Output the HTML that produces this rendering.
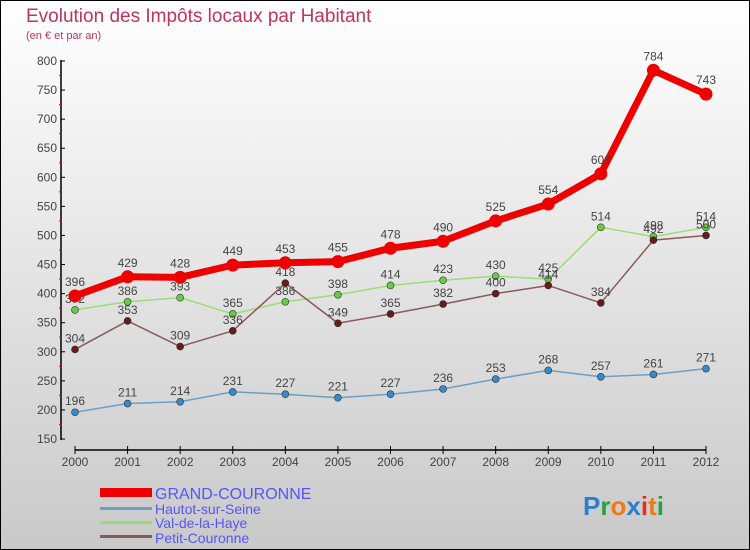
<!DOCTYPE html>
<html><head><meta charset="utf-8">
<style>
body{margin:0;width:750px;height:550px;overflow:hidden;font-family:"Liberation Sans",sans-serif;}
#wrap{position:absolute;left:0;top:0;width:748px;height:548px;border:1px solid #000;background:linear-gradient(#ffffff,#c9c9c9);}
svg{position:absolute;left:0;top:0}
</style></head>
<body>
<div id="wrap"></div>
<svg id="chart" width="750" height="550">
<text x="26" y="22" font-size="19" fill="#c0335f">Evolution des Impôts locaux par Habitant</text>
<text x="26" y="39" font-size="11" fill="#c0335f">(en € et par an)</text>
<g id="axes"></g><g id="series"></g>
<g>
<rect x="100" y="488" width="52" height="9" fill="#e00"/>
<text x="155" y="499" font-size="16" fill="#5555ff">GRAND-COURONNE</text>
<rect x="100" y="507" width="52" height="3" fill="#6aa0c8"/>
<text x="155" y="514" font-size="14" fill="#5555ff">Hautot-sur-Seine</text>
<rect x="100" y="521" width="52" height="3" fill="#99dd77"/>
<text x="155" y="528" font-size="14" fill="#5555ff">Val-de-la-Haye</text>
<rect x="100" y="535" width="52" height="3" fill="#8a5a5a"/>
<text x="155" y="543" font-size="14" fill="#5555ff">Petit-Couronne</text>
</g>
<g font-size="26" font-weight="bold">
<text x="583" y="515"><tspan fill="#2a7fd0">P</tspan><tspan fill="#2aa040">r</tspan><tspan fill="#f07a10">o</tspan><tspan fill="#2a7fd0">x</tspan><tspan fill="#e03020">i</tspan><tspan fill="#f07a10">t</tspan><tspan fill="#2aa040">i</tspan></text>
</g>
</svg>
<script>
const years=[2000,2001,2002,2003,2004,2005,2006,2007,2008,2009,2010,2011,2012];
const yTicks=[150,200,250,300,350,400,450,500,550,600,650,700,750,800];
const grandCouronne=[396,429,428,449,453,455,478,490,525,554,606,784,743];
const hautot=[196,211,214,231,227,221,227,236,253,268,257,261,271];
const valHaye=[372,386,393,365,386,398,414,423,430,425,514,498,514];
const petitCouronne=[304,353,309,336,418,349,365,382,400,414,384,492,500];
const NS="http://www.w3.org/2000/svg";
const X=i=>75+i*(706-75)/(years.length-1);
const Y=v=>439-(v-150)*(439-61)/650;
function mk(tag,attrs,parent){const e=document.createElementNS(NS,tag);for(const k in attrs)e.setAttribute(k,attrs[k]);parent.appendChild(e);return e;}
const ax=document.getElementById('axes');
let a=mk('line',{x1:61,y1:60,x2:61,y2:440,stroke:'#000','stroke-width':1.5},ax);


a=mk('line',{x1:75,y1:450,x2:706,y2:450,stroke:'#000','stroke-width':1.5},ax);


yTicks.forEach(v=>{
 mk('line',{x1:61,y1:Y(v),x2:65,y2:Y(v),stroke:'#000'},ax);
 if(v<800) mk('line',{x1:59,y1:Y(v+25),x2:62,y2:Y(v+25),stroke:'#e00'},ax);
 const t=mk('text',{x:57,y:Y(v)+4,'font-size':12,'text-anchor':'end',fill:'#444'},ax);
 t.textContent=v;
 
 
});
years.forEach((yr,i)=>{
 mk('line',{x1:X(i),y1:446,x2:X(i),y2:454,stroke:'#000'},ax);
 const t=mk('text',{x:X(i),y:466,'font-size':12,'text-anchor':'middle',fill:'#444'},ax);
 t.textContent=yr;
 
 
});
const sg=document.getElementById('series');
function draw(data,color,dot,w,r,name){
 const g=mk('g',{},sg);
 
 
 const l=mk('polyline',{points:data.map((v,i)=>X(i)+','+Y(v)).join(' '),fill:'none',stroke:color,'stroke-width':w,'stroke-linejoin':'round'},g);
 
 
 data.forEach((v,i)=>{
  const c=mk('circle',{cx:X(i),cy:Y(v),r:r,fill:dot,stroke:w>3?dot:'#333','stroke-width':w>3?0:0.6},g);
  
  
  const t=mk('text',{x:X(i),y:Y(v)-(w>3?10:7),'font-size':12,'text-anchor':'middle',fill:'#444'},g);
  t.textContent=v;
  
  
 });
}
draw(hautot,'#6aa0c8','#3a8ac8',1.5,3.5,'hautot-series');
draw(valHaye,'#99dd77','#66cc44',1.5,3.5,'val-de-la-haye-series');
draw(petitCouronne,'#8a5a5a','#6a1a1a',1.5,3.5,'petit-couronne-series');
draw(grandCouronne,'#ee0000','#ee0000',7,6.5,'grand-couronne-series');
</script>
</body></html>
